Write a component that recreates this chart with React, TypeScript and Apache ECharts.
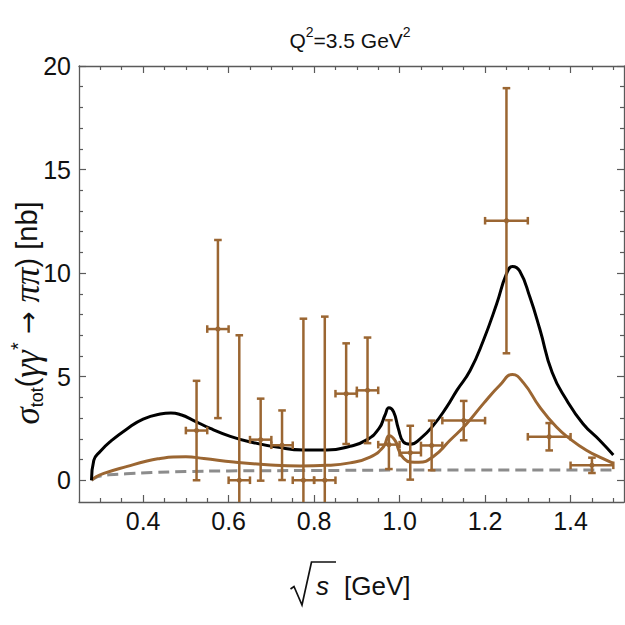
import React, { useEffect, useRef } from "react";
import * as echarts from "echarts";

// Measured cross-section bins: centre, half-width, value, error (nb)
const binCenters = [0.525, 0.575, 0.625, 0.675, 0.725, 0.775, 0.825, 0.875, 0.925, 0.975, 1.025, 1.075, 1.15, 1.25, 1.35, 1.45];
const binHalfWidths = [0.025, 0.025, 0.025, 0.025, 0.025, 0.025, 0.025, 0.025, 0.025, 0.025, 0.025, 0.025, 0.05, 0.05, 0.05, 0.05];
const sigmaValues = [2.4, 7.3, 0.0, 1.96, 1.69, 0.0, 0.0, 4.18, 4.34, 1.72, 1.33, 1.68, 2.88, 12.53, 2.1, 0.72];
const sigmaErrors = [2.4, 4.3, 7.0, 1.98, 1.68, 7.8, 7.9, 2.43, 2.55, 1.18, 1.3, 1.2, 0.95, 6.4, 0.66, 0.37];

// Total theory curve [sqrt(s), sigma]
const totalCurve = [
  [0.2792, 0], [0.2846, 0.96], [0.3, 1.4], [0.324, 1.88], [0.363, 2.49], [0.4, 2.95], [0.44, 3.2],
  [0.465, 3.25], [0.49, 3.15], [0.515, 2.92], [0.557, 2.5], [0.604, 2.12], [0.651, 1.85], [0.713, 1.6],
  [0.775, 1.46], [0.83, 1.46], [0.884, 1.64], [0.923, 1.95], [0.952, 2.5], [0.966, 3.15], [0.975, 3.5],
  [0.986, 3.3], [0.997, 2.5], [1.009, 1.85], [1.025, 1.74], [1.048, 2.0], [1.079, 2.65], [1.11, 3.53],
  [1.134, 4.34], [1.165, 5.3], [1.196, 6.75], [1.227, 8.51], [1.25, 9.96], [1.264, 10.32],
  [1.281, 10.1], [1.305, 8.83], [1.328, 7.3], [1.357, 5.2], [1.391, 3.86], [1.429, 2.73], [1.468, 1.93],
  [1.5, 1.22],
];

// Partial-wave contribution
const partialCurve = [
  [0.2792, 0], [0.29, 0.17], [0.308, 0.33], [0.363, 0.67], [0.409, 0.93], [0.44, 1.05], [0.47, 1.12],
  [0.5, 1.13], [0.542, 1.05], [0.612, 0.88], [0.69, 0.75], [0.768, 0.69], [0.83, 0.72],
  [0.884, 0.84], [0.931, 1.12], [0.962, 1.6], [0.976, 2.15], [0.99, 1.9], [0.998, 1.45], [1.008, 1.1],
  [1.025, 0.88], [1.045, 0.87], [1.079, 1.15], [1.118, 1.93], [1.157, 2.73], [1.196, 3.7],
  [1.235, 4.6], [1.264, 5.1], [1.29, 4.7], [1.328, 3.53], [1.367, 2.57], [1.398, 2.01],
  [1.437, 1.45], [1.476, 1.04], [1.5, 0.82],
];

// Born-term curve
const bornCurve = [
  [0.2792, 0], [0.29, 0.14], [0.3, 0.2], [0.32, 0.26], [0.36, 0.31], [0.42, 0.37], [0.5, 0.42],
  [0.6, 0.45], [0.8, 0.47], [1.0, 0.49], [1.5, 0.5],
];

const xMajorTicks = [0.4, 0.6, 0.8, 1.0, 1.2, 1.4];
const xMinorTicks = [0.3, 0.35, 0.45, 0.5, 0.55, 0.65, 0.7, 0.75, 0.85, 0.9, 0.95, 1.05, 1.1, 1.15, 1.25, 1.3, 1.35, 1.45, 1.5];
const yMajorTicks = [0, 5, 10, 15, 20];
const yMinorTicks = [1, 2, 3, 4, 6, 7, 8, 9, 11, 12, 13, 14, 16, 17, 18, 19];

const BROWN = "#9b6632";
const FRAME = "#5a5a5a";
const FONT = "'Liberation Sans', Arial, sans-serif";
const GREEK = "'Liberation Serif', 'Times New Roman', serif";
const X_MIN = 0.25, X_MAX = 1.525, Y_MIN = -1.05, Y_MAX = 20;

function tickAxis(kind: "x" | "y", position: string, values: number[], len: number, showLine: boolean, labels: boolean) {
  const base: any = {
    type: "value",
    position,
    min: kind === "x" ? X_MIN : Y_MIN,
    max: kind === "x" ? X_MAX : Y_MAX,
    splitLine: { show: false },
    axisLine: { show: showLine, onZero: false, lineStyle: { color: FRAME, width: 1.3 } },
    axisTick: { show: true, inside: true, length: len, customValues: values, lineStyle: { color: FRAME, width: 1.2 } },
    axisLabel: labels
      ? {
          show: true,
          customValues: values,
          fontFamily: FONT,
          fontSize: 25,
          color: "#111",
          margin: kind === "x" ? 6 : 8,
          formatter: (v: number) => (kind === "x" ? v.toFixed(1) : String(Math.round(v))),
        }
      : { show: false },
  };
  return base;
}

export default function App() {
  const ref = useRef<HTMLDivElement>(null);

  useEffect(() => {
    if (!ref.current) return;
    const chart = echarts.init(ref.current, undefined, { renderer: "svg" });

    const points = binCenters.map((c, i) => [c, sigmaValues[i], binHalfWidths[i], sigmaErrors[i]]);

    const curve = (data: number[][], color: string, z: number, dashed = false) => ({
      type: "line",
      data,
      showSymbol: false,
      smooth: 0.5,
      lineStyle: { color, width: 3, type: dashed ? [11, 6] : "solid", cap: "butt", join: "round" },
      z,
    });

    const option: any = {
      animation: false,
      backgroundColor: "#fff",
      grid: { left: 79, top: 66, width: 545, height: 436, containLabel: false },
      xAxis: [
        tickAxis("x", "bottom", xMajorTicks, 7, true, true),
        tickAxis("x", "bottom", xMinorTicks, 4, false, false),
        tickAxis("x", "top", xMajorTicks, 7, true, false),
        tickAxis("x", "top", xMinorTicks, 4, false, false),
      ],
      yAxis: [
        tickAxis("y", "left", yMajorTicks, 7, true, true),
        tickAxis("y", "left", yMinorTicks, 4, false, false),
        tickAxis("y", "right", yMajorTicks, 7, true, false),
        tickAxis("y", "right", yMinorTicks, 4, false, false),
      ],
      series: [
        curve(bornCurve, "#8c8c8c", 2, true),
        curve(partialCurve, BROWN, 3),
        curve(totalCurve, "#000", 4),
        {
          type: "custom",
          data: points,
          clip: true,
          encode: { x: 0, y: 1 },
          z: 5,
          renderItem: (_params: any, api: any) => {
            const x = api.value(0), y = api.value(1), dx = api.value(2), dy = api.value(3);
            const c = api.coord([x, y]);
            const l = api.coord([x - dx, y]);
            const r = api.coord([x + dx, y]);
            const t = api.coord([x, y + dy]);
            const b = api.coord([x, y - dy]);
            const cap = 3.8;
            const style = { stroke: BROWN, lineWidth: 2.5 };
            const seg = (x1: number, y1: number, x2: number, y2: number) => ({
              type: "line",
              shape: { x1, y1, x2, y2 },
              style,
            });
            return {
              type: "group",
              children: [
                seg(l[0], l[1], r[0], r[1]),
                seg(t[0], t[1], b[0], b[1]),
                seg(l[0], l[1] - cap, l[0], l[1] + cap),
                seg(r[0], r[1] - cap, r[0], r[1] + cap),
                seg(t[0] - cap, t[1], t[0] + cap, t[1]),
                seg(b[0] - cap, b[1], b[0] + cap, b[1]),
                { type: "circle", shape: { cx: c[0], cy: c[1], r: 2.6 }, style: { fill: BROWN } },
              ],
            };
          },
        },
      ],
      graphic: [
        {
          type: "text",
          x: 350,
          y: 38,
          style: {
            text: "{n|Q}{sup|2}{n|=3.5 GeV}{sup|2}",
            align: "center",
            verticalAlign: "middle",
            rich: {
              n: { fontFamily: FONT, fontSize: 21, fill: "#111", lineHeight: 26, verticalAlign: "bottom" },
              sup: { fontFamily: FONT, fontSize: 14, fill: "#111", lineHeight: 26, verticalAlign: "top" },
            },
          },
        },
        {
          type: "text",
          x: 27,
          y: 313,
          rotation: Math.PI / 2,
          style: {
            text: "{g|σ}{sub|tot}{n|(}{g|γγ}{sup|*}{a| → }{g|ππ}{n|) [nb]}",
            align: "center",
            verticalAlign: "middle",
            rich: {
              n: { fontFamily: FONT, fontSize: 29, fill: "#111", lineHeight: 38, verticalAlign: "middle" },
              a: { fontFamily: "'DejaVu Sans', sans-serif", fontSize: 27, fill: "#111", lineHeight: 38, verticalAlign: "middle" },
              g: { fontFamily: GREEK, fontStyle: "italic", fontSize: 35, fill: "#111", lineHeight: 38, verticalAlign: "middle" },
              sub: { fontFamily: FONT, fontSize: 18, fill: "#111", lineHeight: 38, verticalAlign: "bottom" },
              sup: { fontFamily: FONT, fontSize: 20, fill: "#111", lineHeight: 38, verticalAlign: "top" },
            },
          },
        },
        // sqrt(s) [GeV]
        {
          type: "polyline",
          shape: { points: [[290.5, 589], [294, 586.5], [302, 605], [311.5, 562], [336, 562]] },
          style: { stroke: "#111", lineWidth: 1.7, fill: null },
        },
        {
          type: "text",
          x: 316,
          y: 586,
          style: { text: "s", fontFamily: FONT, fontStyle: "italic", fontSize: 26, fill: "#111", verticalAlign: "middle", align: "left" },
        },
        {
          type: "text",
          x: 344,
          y: 586,
          style: { text: "[GeV]", fontFamily: FONT, fontSize: 26, fill: "#111", verticalAlign: "middle", align: "left" },
        },
      ],
    };

    chart.setOption(option);
    return () => chart.dispose();
  }, []);

  return (
    <div
      ref={ref}
      style={{ position: "fixed", left: 0, top: 0, width: 625, height: 625, background: "#fff" }}
    />
  );
}
